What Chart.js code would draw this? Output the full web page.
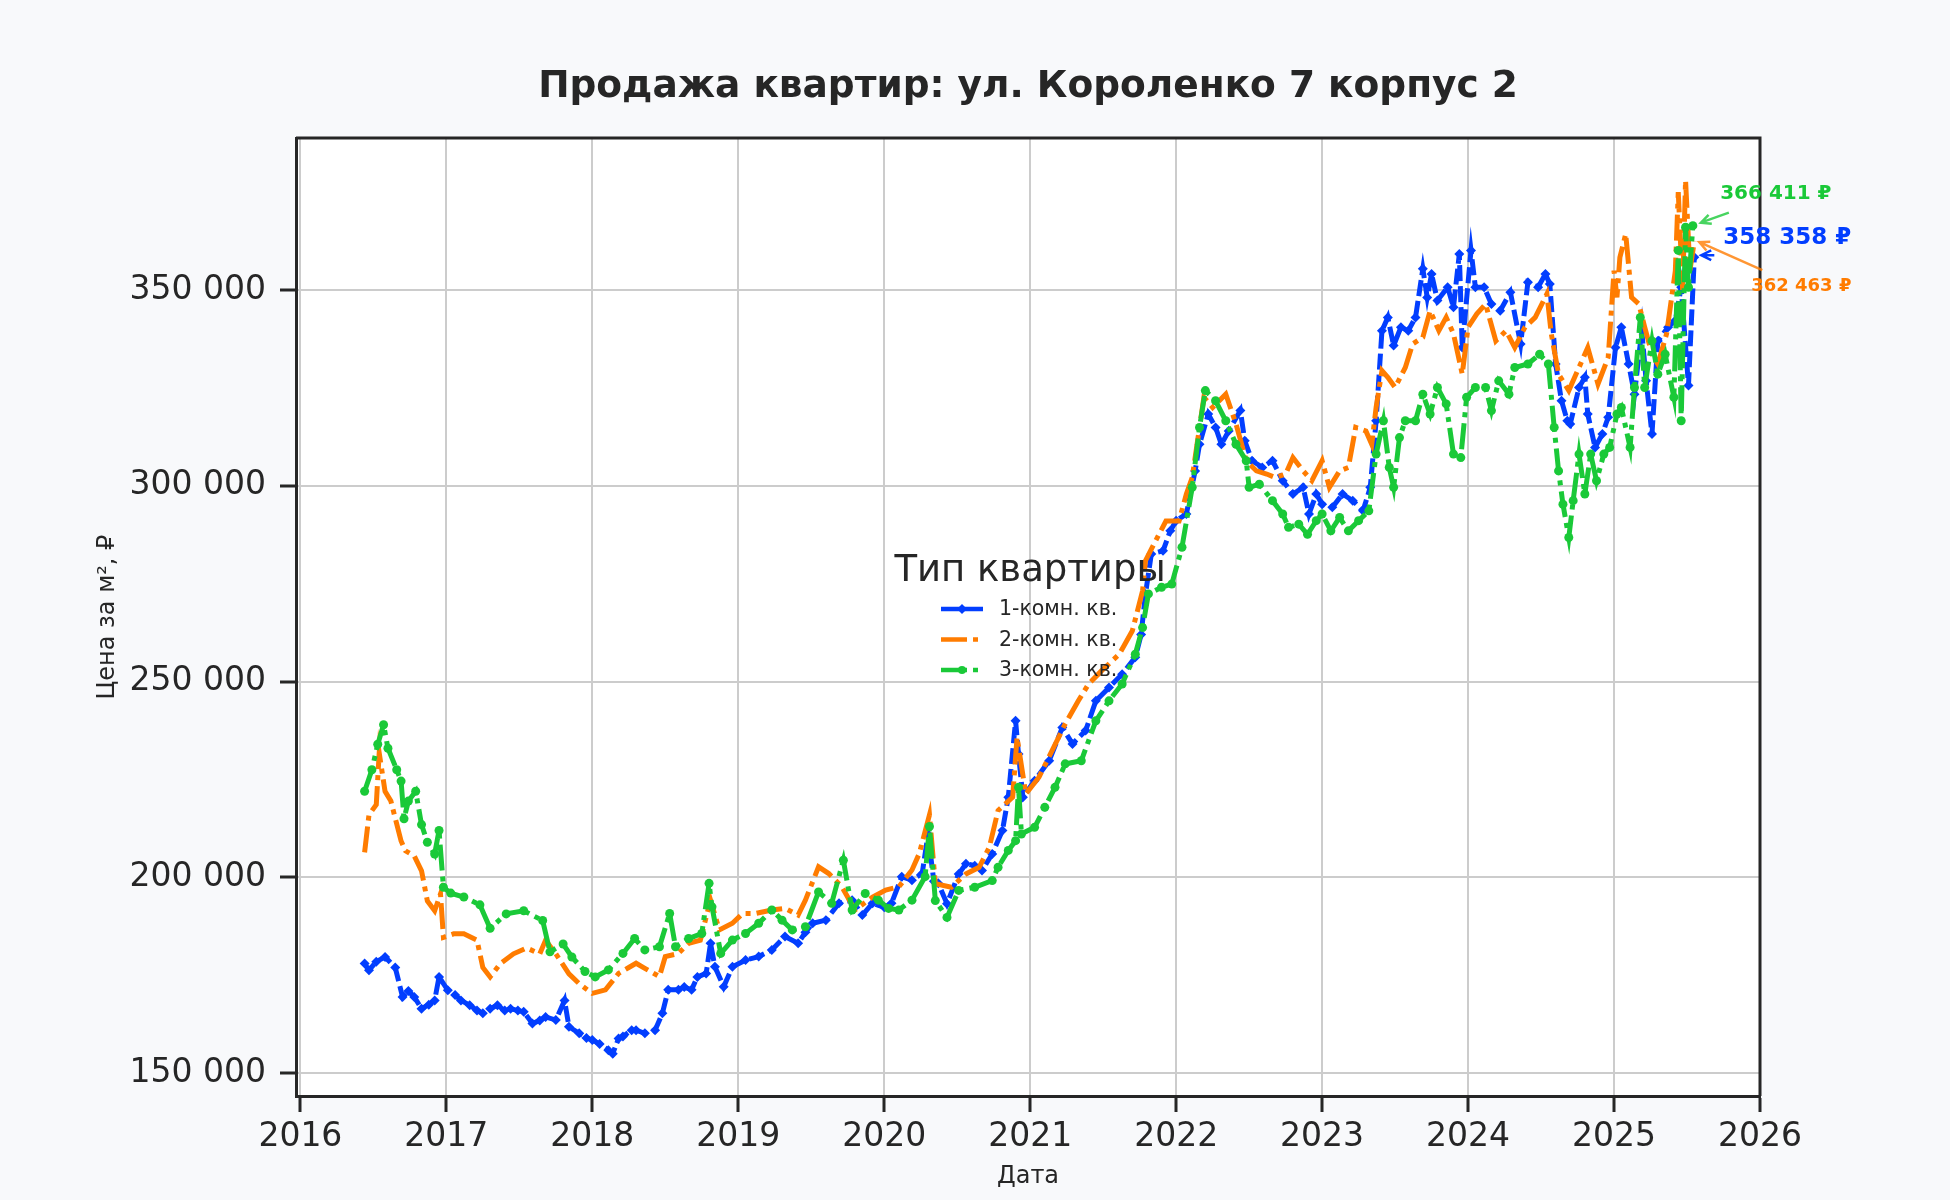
<!DOCTYPE html>
<html lang="ru">
<head>
<meta charset="utf-8">
<title>Продажа квартир: ул. Короленко 7 корпус 2</title>
<script src="https://cdn.jsdelivr.net/npm/chart.js@4.4.1/dist/chart.umd.min.js"></script>
<style>
  html, body { margin: 0; padding: 0; background: #f8f9fb; }
  #wrap { width: 1950px; height: 1200px; }
</style>
</head>
<body>
<div id="wrap"><canvas id="chart" width="1950" height="1200"></canvas></div>
<script>
// dates as decimal years, prices in rubles per m2
const t1 = [
  2016.44, 2016.47, 2016.52, 2016.58, 2016.65, 2016.70, 2016.74, 2016.78, 2016.83, 2016.88, 2016.92, 2016.95,
  2017.01, 2017.06, 2017.10, 2017.16, 2017.21, 2017.25, 2017.30, 2017.35, 2017.40, 2017.44, 2017.49, 2017.53, 2017.59, 2017.64, 2017.68, 2017.75, 2017.81, 2017.84, 2017.91, 2017.96,
  2018.00, 2018.05, 2018.11, 2018.14, 2018.18, 2018.21, 2018.27, 2018.30, 2018.36, 2018.43, 2018.48, 2018.52, 2018.59, 2018.63, 2018.68, 2018.72, 2018.78, 2018.81, 2018.84, 2018.90, 2018.96,
  2019.05, 2019.14, 2019.23, 2019.32, 2019.41, 2019.46, 2019.51, 2019.60, 2019.69, 2019.78, 2019.85, 2019.92,
  2020.00, 2020.05, 2020.12, 2020.19, 2020.26, 2020.30, 2020.34, 2020.37, 2020.43, 2020.51, 2020.56, 2020.62, 2020.67, 2020.74, 2020.81, 2020.85, 2020.90, 2020.92, 2020.95,
  2021.03, 2021.13, 2021.22, 2021.29, 2021.38, 2021.45, 2021.54, 2021.63, 2021.72, 2021.76, 2021.79, 2021.83, 2021.91, 2021.96,
  2022.00, 2022.07, 2022.13, 2022.16, 2022.22, 2022.27, 2022.31, 2022.36, 2022.44, 2022.47, 2022.52, 2022.59, 2022.66, 2022.73, 2022.80, 2022.87, 2022.91, 2022.96,
  2023.00, 2023.07, 2023.14, 2023.21, 2023.28, 2023.33, 2023.37, 2023.41, 2023.45, 2023.49, 2023.54, 2023.59, 2023.64, 2023.69, 2023.72, 2023.75, 2023.79, 2023.86, 2023.90, 2023.94, 2023.96,
  2024.02, 2024.05, 2024.11, 2024.16, 2024.22, 2024.29, 2024.36, 2024.41, 2024.48, 2024.53, 2024.56, 2024.60, 2024.64, 2024.68, 2024.70, 2024.76, 2024.80, 2024.82, 2024.87, 2024.92, 2024.96,
  2025.01, 2025.05, 2025.10, 2025.14, 2025.19, 2025.22, 2025.26, 2025.30, 2025.37, 2025.42, 2025.46, 2025.51, 2025.55
];
const p1 = [
  178000, 176300, 178500, 179700, 177000, 169500, 171000, 169500, 166500, 167500, 168600, 174600,
  171200, 170000, 168600, 167400, 166000, 165300, 166500, 167400, 166000, 166500, 166000, 165700, 162700, 163500, 164400, 163600, 168600, 161900, 160200, 159000,
  158500, 157500, 155900, 155000, 158900, 159400, 161000, 161000, 160200, 161000, 165300, 171300, 171300, 172000, 171300, 174600, 175500, 183200, 177200, 172100, 177200,
  178900, 179800, 181500, 184900, 183200, 186000, 188300, 189100, 193400, 194200, 190400, 193400,
  192400, 193400, 200200, 199300, 201000, 211000, 199000, 198500, 193300, 200900, 203500, 203000, 201800, 206000, 212000, 220500, 240000, 231500, 220500,
  224700, 229800, 238300, 234100, 237500, 245100, 248500, 251900, 256200, 262000, 272400, 282600, 283400, 288500,
  291100, 292800, 303800, 310600, 318300, 314900, 310600, 314000, 319200, 311500, 306400, 304700, 306400, 301300, 297900, 299600, 292800, 297900,
  295300, 294500, 297900, 296200, 293600, 299600, 316600, 339600, 343000, 335800, 340500, 339600, 343000, 355400, 348100, 354100, 347300, 350700, 345600, 359200, 335300,
  360100, 350700, 350700, 346400, 344700, 349400, 336200, 352000, 350700, 354100, 351500, 331100, 321700, 316600, 315800, 325100, 327700, 318300, 309800, 313200, 317500,
  335300, 340500, 331100, 323400, 339600, 326800, 313200, 337000, 340500, 342200, 350700, 325600, 358358
];

const t2 = [
  2016.44, 2016.47, 2016.52, 2016.54, 2016.58, 2016.62, 2016.69, 2016.72, 2016.78, 2016.83, 2016.87, 2016.92, 2016.96, 2016.98,
  2017.05, 2017.12, 2017.21, 2017.25, 2017.30, 2017.37, 2017.46, 2017.55, 2017.64, 2017.68, 2017.75, 2017.84, 2017.91,
  2018.00, 2018.09, 2018.18, 2018.25, 2018.30, 2018.36, 2018.46, 2018.50, 2018.59, 2018.66, 2018.74, 2018.81, 2018.87, 2018.96,
  2019.03, 2019.12, 2019.23, 2019.32, 2019.41, 2019.46, 2019.55, 2019.62, 2019.71, 2019.80, 2019.92,
  2020.01, 2020.10, 2020.19, 2020.24, 2020.31, 2020.35, 2020.46, 2020.56, 2020.65, 2020.72, 2020.78, 2020.88, 2020.91, 2020.97,
  2021.06, 2021.15, 2021.24, 2021.33, 2021.40, 2021.49, 2021.61, 2021.70, 2021.77, 2021.79, 2021.86, 2021.93,
  2022.02, 2022.07, 2022.11, 2022.16, 2022.19, 2022.25, 2022.34, 2022.41, 2022.48, 2022.55, 2022.62, 2022.68, 2022.75, 2022.80, 2022.87, 2022.93,
  2023.00, 2023.05, 2023.12, 2023.18, 2023.23, 2023.30, 2023.34, 2023.37, 2023.41, 2023.45, 2023.50, 2023.57, 2023.62, 2023.69, 2023.74, 2023.80, 2023.85, 2023.90, 2023.96,
  2024.00, 2024.06, 2024.12, 2024.19, 2024.26, 2024.32, 2024.39, 2024.46, 2024.54, 2024.57, 2024.62, 2024.69, 2024.76, 2024.82, 2024.89, 2024.96,
  2025.00, 2025.02, 2025.04, 2025.08, 2025.12, 2025.17, 2025.21, 2025.26, 2025.30, 2025.36, 2025.42, 2025.44, 2025.47, 2025.49, 2025.52, 2025.55
];
const p2 = [
  206400, 216000, 218600, 231800, 222000, 219500, 209300, 206800, 205500, 201700, 194000, 191500, 195800, 184700,
  185600, 185600, 184000, 177000, 174600, 178000, 180500, 182000, 180500, 184000, 180500, 175400, 172900,
  170400, 171300, 175500, 177000, 178100, 176800, 174700, 179800, 180600, 183200, 184000, 194200, 186600, 188300,
  190800, 190800, 191700, 192100, 190400, 194200, 202700, 201000, 197600, 191700, 195000,
  196800, 197600, 201900, 206100, 216000, 198400, 197500, 200900, 202600, 207700, 217100, 220500, 235800, 221300,
  225600, 232400, 239200, 245100, 249400, 252800, 257000, 263000, 273200, 280900, 286000, 291000,
  291000, 297900, 302100, 314900, 322600, 320000, 323400, 315800, 306400, 303800, 303000, 302100, 303000, 307200, 303800, 301300,
  306400, 299600, 303800, 304700, 314900, 314000, 310600, 320000, 329400, 327700, 325100, 330200, 336200, 337900, 344700, 339600, 343000, 338800, 328500,
  340500, 343900, 346400, 337000, 339600, 335300, 340500, 343000, 349000, 338800, 328500, 324300, 330200, 335300, 326000, 332800,
  354900, 348100, 358300, 364300, 348100, 346400, 340500, 333600, 331100, 338800, 354900, 375000, 350000, 378000, 355000, 362463
];

const t3 = [
  2016.44, 2016.49, 2016.53, 2016.57, 2016.60, 2016.66, 2016.69, 2016.71, 2016.74, 2016.79, 2016.83, 2016.87, 2016.92, 2016.95, 2016.98,
  2017.03, 2017.12, 2017.23, 2017.30, 2017.41, 2017.53, 2017.66, 2017.71, 2017.80, 2017.86, 2017.95,
  2018.02, 2018.11, 2018.21, 2018.29, 2018.36, 2018.46, 2018.53, 2018.57, 2018.66, 2018.75, 2018.80, 2018.82, 2018.88, 2018.96,
  2019.05, 2019.14, 2019.23, 2019.30, 2019.37, 2019.46, 2019.55, 2019.64, 2019.72, 2019.78, 2019.87, 2019.96,
  2020.03, 2020.10, 2020.19, 2020.28, 2020.31, 2020.35, 2020.43, 2020.51, 2020.62, 2020.74, 2020.78, 2020.85, 2020.90, 2020.92, 2020.94,
  2021.03, 2021.10, 2021.17, 2021.24, 2021.35, 2021.45, 2021.54, 2021.63, 2021.72, 2021.77, 2021.81, 2021.90, 2021.97,
  2022.04, 2022.11, 2022.16, 2022.20, 2022.27, 2022.34, 2022.41, 2022.48, 2022.50, 2022.57, 2022.66, 2022.73, 2022.77, 2022.84, 2022.90, 2022.96,
  2023.00, 2023.06, 2023.12, 2023.18, 2023.25, 2023.32, 2023.37, 2023.42, 2023.46, 2023.49, 2023.53, 2023.57, 2023.64, 2023.69, 2023.74, 2023.79, 2023.85, 2023.90, 2023.95, 2023.99,
  2024.05, 2024.12, 2024.16, 2024.21, 2024.28, 2024.32, 2024.41, 2024.49, 2024.55, 2024.59, 2024.62, 2024.65, 2024.69, 2024.72, 2024.76, 2024.80, 2024.84, 2024.88, 2024.93, 2024.97,
  2025.02, 2025.05, 2025.11, 2025.14, 2025.18, 2025.21, 2025.26, 2025.30, 2025.35, 2025.41, 2025.44, 2025.46, 2025.49, 2025.51, 2025.54
];
const p3 = [
  222000, 227500, 234000, 239000, 233000, 227500, 224600, 215000, 219500, 222000, 213500, 209000, 206000, 212000, 197500,
  196000, 195000, 193000, 187000, 190700, 191500, 189000, 181000, 183000, 179700, 176000,
  174600, 176400, 180600, 184400, 181500, 182300, 190800, 182300, 184400, 185700, 198500, 192500, 180600, 184000,
  185700, 188300, 191700, 189100, 186600, 187400, 196300, 193400, 204400, 191700, 195900, 194200,
  192100, 191700, 194200, 200200, 213000, 194100, 189800, 196700, 197500, 199200, 202600, 206900, 209400, 223000, 211100,
  212800, 217900, 223000, 229000, 229800, 240000, 245100, 249400, 257000, 263800, 272400, 274100, 274900,
  284300, 299600, 314900, 324300, 321700, 316600, 310600, 306400, 299600, 300400, 296200, 292800, 289400, 290200, 287600, 291100,
  292800, 288500, 291900, 288500, 291100, 293600, 308100, 316600, 304700, 299600, 312300, 316600, 316600, 323400, 318300, 325100, 320900, 308100, 307200, 322600,
  325100, 325100, 319200, 326800, 323400, 330200, 331100, 333600, 331100, 314900, 303800, 295300, 286800, 296200, 308100, 297900, 308100, 301300, 308100, 309800,
  318300, 320000, 309800, 325100, 343000, 325100, 337000, 328500, 333600, 322600, 360100, 316600, 366000, 350700, 366411
];

const seriesNames = ["1-комн. кв.", "2-комн. кв.", "3-комн. кв."];
const yearTicks = [2016, 2017, 2018, 2019, 2020, 2021, 2022, 2023, 2024, 2025, 2026];
const priceTicks = [150000, 200000, 250000, 300000, 350000];

const BLUE = "#023eff";
const ORANGE = "#ff7c00";
const GREEN = "#1ac938";
const INK = "#262626";

function fmt(v) {
  return String(Math.round(v)).replace(/\B(?=(\d{3})+(?!\d))/g, " ");
}
function pts(t, p) {
  return t.map((x, i) => ({ x: x, y: p[i] }));
}

// background + white plot area
const bgPlugin = {
  id: "bg",
  beforeDraw(chart) {
    const ctx = chart.ctx, a = chart.chartArea;
    ctx.save();
    ctx.fillStyle = "#f8f9fb";
    ctx.fillRect(0, 0, chart.width, chart.height);
    ctx.fillStyle = "#ffffff";
    ctx.fillRect(a.left, a.top, a.right - a.left, a.bottom - a.top);
    ctx.restore();
  }
};

function arrow(ctx, x0, y0, x1, y1, color) {
  const ang = Math.atan2(y1 - y0, x1 - x0);
  const h = 11;
  ctx.save();
  ctx.strokeStyle = color;
  ctx.lineWidth = 2.5;
  ctx.beginPath();
  ctx.moveTo(x0, y0);
  ctx.lineTo(x1, y1);
  ctx.moveTo(x1 - h * Math.cos(ang - 0.45), y1 - h * Math.sin(ang - 0.45));
  ctx.lineTo(x1, y1);
  ctx.lineTo(x1 - h * Math.cos(ang + 0.45), y1 - h * Math.sin(ang + 0.45));
  ctx.stroke();
  ctx.restore();
}

// frame, title, legend and last-value labels
const decoPlugin = {
  id: "deco",
  afterDraw(chart) {
    const ctx = chart.ctx, a = chart.chartArea;
    ctx.save();
    // top + right spines
    ctx.strokeStyle = INK;
    ctx.lineWidth = 3;
    ctx.beginPath();
    ctx.moveTo(a.left, a.top);
    ctx.lineTo(a.right, a.top);
    ctx.lineTo(a.right, a.bottom);
    ctx.stroke();

    // title
    ctx.fillStyle = INK;
    ctx.textAlign = "center";
    ctx.textBaseline = "middle";
    ctx.font = "bold 37.5px 'DejaVu Sans'";
    ctx.fillText("Продажа квартир: ул. Короленко 7 корпус 2", (a.left + a.right) / 2, 87);

    // legend
    const lx = 941, ly = 609, step = 30.5;
    ctx.font = "37px 'DejaVu Sans'";
    ctx.fillText("Тип квартиры", 1030, 571);
    ctx.font = "20.5px 'DejaVu Sans'";
    ctx.textAlign = "left";
    chart.data.datasets.forEach((ds, i) => {
      const y = ly + i * step;
      ctx.strokeStyle = ds.borderColor;
      ctx.lineWidth = 4.5;
      ctx.setLineDash(i === 0 ? [] : ds.borderDash);
      ctx.beginPath();
      ctx.moveTo(lx, y);
      ctx.lineTo(lx + 42, y);
      ctx.stroke();
      ctx.setLineDash([]);
      ctx.fillStyle = ds.borderColor;
      if (ds.pointStyle === "rectRot") {
        ctx.beginPath();
        ctx.moveTo(lx + 21, y - 5); ctx.lineTo(lx + 26, y); ctx.lineTo(lx + 21, y + 5); ctx.lineTo(lx + 16, y);
        ctx.fill();
      } else if (ds.pointRadius > 0) {
        ctx.beginPath();
        ctx.arc(lx + 21, y, 4, 0, Math.PI * 2);
        ctx.fill();
      }
      ctx.fillStyle = INK;
      ctx.fillText(ds.label, 999, y + 1);
    });

    // last values
    const last = i => {
      const d = chart.getDatasetMeta(i).data;
      return d[d.length - 1];
    };
    const lastVal = i => chart.data.datasets[i].data[chart.data.datasets[i].data.length - 1].y;
    ctx.textAlign = "center";

    let e = last(2);
    ctx.fillStyle = GREEN;
    ctx.font = "bold 20px 'DejaVu Sans'";
    ctx.fillText(fmt(lastVal(2)) + " ₽", e.x + 83, e.y - 32);
    arrow(ctx, e.x + 36, e.y - 13, e.x + 8, e.y - 3, "rgba(26,201,56,0.8)");

    e = last(0);
    ctx.fillStyle = BLUE;
    ctx.font = "bold 23px 'DejaVu Sans'";
    ctx.fillText(fmt(lastVal(0)) + " ₽", e.x + 93, e.y - 19);
    arrow(ctx, e.x + 20, e.y - 2, e.x + 7, e.y - 2, BLUE);

    e = last(1);
    ctx.fillStyle = ORANGE;
    ctx.font = "bold 18px 'DejaVu Sans'";
    ctx.fillText(fmt(lastVal(1)) + " ₽", e.x + 107, e.y + 45);
    arrow(ctx, e.x + 68, e.y + 29, e.x + 5, e.y + 1, "rgba(255,124,0,0.8)");

    ctx.restore();
  }
};

new Chart(document.getElementById("chart"), {
  type: "line",
  data: {
    datasets: [
      {
        label: seriesNames[0], data: pts(t1, p1),
        borderColor: BLUE, backgroundColor: BLUE, borderWidth: 5, borderDash: [16, 5],
        pointStyle: "rectRot", pointRadius: 5, pointBorderWidth: 0, order: 2
      },
      {
        label: seriesNames[1], data: pts(t2, p2),
        borderColor: ORANGE, backgroundColor: ORANGE, borderWidth: 5, borderDash: [26, 6, 5, 6],
        pointRadius: 0, order: 1
      },
      {
        label: seriesNames[2], data: pts(t3, p3),
        borderColor: GREEN, backgroundColor: GREEN, borderWidth: 5, borderDash: [26, 6, 5, 6],
        pointStyle: "circle", pointRadius: 4.5, pointBorderWidth: 0, order: 0
      }
    ]
  },
  options: {
    responsive: false,
    animation: false,
    devicePixelRatio: 1,
    layout: { padding: { left: 80, right: 190, top: 138, bottom: 0 } },
    plugins: { legend: { display: false }, title: { display: false }, tooltip: { enabled: false } },
    elements: { line: { tension: 0 } },
    scales: {
      x: {
        type: "linear", min: 2015.97, max: 2026.0,
        afterBuildTicks: s => { s.ticks = yearTicks.map(v => ({ value: v })); },
        afterFit: s => { s.height = 104; },
        grid: { color: "#cccccc", lineWidth: 2, tickColor: INK, tickWidth: 3, tickLength: 16 },
        border: { color: INK, width: 3 },
        ticks: { color: INK, font: { family: "DejaVu Sans", size: 33 }, padding: 6, maxRotation: 0, autoSkip: false,
          callback: v => String(v) },
        title: { display: true, text: "Дата", color: INK, font: { family: "DejaVu Sans", size: 24 }, padding: { bottom: 9 } }
      },
      y: {
        min: 144200, max: 388800,
        afterBuildTicks: s => { s.ticks = priceTicks.map(v => ({ value: v })); },
        afterFit: s => { s.width = 216; },
        grid: { color: "#cccccc", lineWidth: 2, tickColor: INK, tickWidth: 3, tickLength: 16 },
        border: { color: INK, width: 3 },
        ticks: { color: INK, font: { family: "DejaVu Sans", size: 33 }, padding: 14, autoSkip: false,
          callback: v => fmt(v) },
        title: { display: true, text: "Цена за м², ₽", color: INK, font: { family: "DejaVu Sans", size: 24 }, padding: { top: 13 } }
      }
    }
  },
  plugins: [bgPlugin, decoPlugin]
});
</script>
</body>
</html>
